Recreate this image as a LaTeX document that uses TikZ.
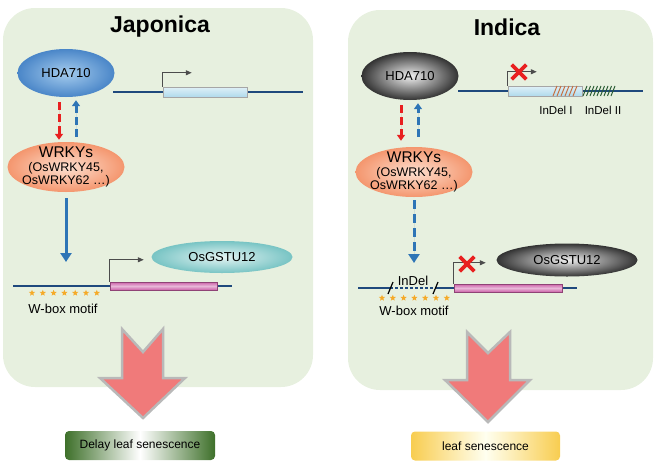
\documentclass[tikz,border=0pt]{standalone}
\usepackage{fontspec}
\setmainfont{Liberation Sans}
\usetikzlibrary{shapes.geometric,shapes.misc,arrows.meta,positioning}
\definecolor{panelgreen}{RGB}{231,240,223}
\definecolor{dnablue}{RGB}{31,73,125}
\definecolor{arrowblue}{RGB}{46,117,182}
\definecolor{arrowred}{RGB}{232,32,32}
\definecolor{hdablue}{RGB}{74,134,200}
\definecolor{hdalight}{RGB}{165,204,238}
\definecolor{wrkydark}{RGB}{244,150,110}
\definecolor{wrkylight}{RGB}{253,224,208}
\definecolor{gstdark}{RGB}{120,196,196}
\definecolor{gstlight}{RGB}{228,244,243}
\definecolor{genecyan}{RGB}{176,218,236}
\definecolor{genepink}{RGB}{204,96,168}
\definecolor{starorange}{RGB}{245,170,40}
\definecolor{coral}{RGB}{240,122,122}
\definecolor{leafgreen}{RGB}{62,112,42}
\definecolor{leafyellow}{RGB}{248,205,80}
\definecolor{indelbrown}{RGB}{200,110,60}
\definecolor{indelgreen}{RGB}{40,90,50}
\begin{document}
\begin{tikzpicture}[x=1pt,y=-1pt]
  \tikzstyle{every node}=[font=\fontsize{13}{15}\selectfont, inner sep=0pt]
  \tikzstyle{panel}=[fill=panelgreen, rounded corners=32pt]
  \tikzstyle{title}=[font=\fontsize{23}{26}\selectfont\bfseries]
  \tikzstyle{blob}=[ellipse, minimum width=97pt, minimum height=48pt]
  \tikzstyle{hdaJ}=[blob, shading=radial, inner color=hdalight, outer color=hdablue]
  \tikzstyle{hdaI}=[blob, shading=radial, inner color=gray!12, outer color=black!80]
  \tikzstyle{wrky}=[ellipse, minimum width=117pt, minimum height=50pt, shading=radial, inner color=wrkylight, outer color=wrkydark]
  \tikzstyle{wrkytext}=[align=center, font=\fontsize{12.5}{13.5}\selectfont]
  \tikzstyle{gstJ}=[ellipse, minimum width=141pt, minimum height=32pt, shading=radial, inner color=gstlight, outer color=gstdark]
  \tikzstyle{gstI}=[ellipse, minimum width=141pt, minimum height=33pt, shading=radial, inner color=gray!12, outer color=black!80]
  \tikzstyle{dna}=[draw=dnablue, line width=1.6pt]
  \tikzstyle{cyanbox}=[draw=gray!70, line width=0.5pt, minimum height=10pt, top color=genecyan!40!white, bottom color=genecyan]
  \tikzstyle{pinkbox}=[draw=genepink!70!black, line width=0.5pt, minimum height=8pt, top color=genepink, bottom color=genepink, middle color=genepink!45!white]
  \tikzstyle{prom}=[-{Triangle[length=6pt,width=5pt]}, draw=black!70, line width=1.2pt]
  \tikzstyle{redDash}=[-{Triangle[length=6pt,width=8pt]}, draw=arrowred, fill=arrowred, line width=3pt, dash pattern=on 8pt off 4pt]
  \tikzstyle{blueDash}=[-{Triangle[length=6pt,width=8pt]}, draw=arrowblue, fill=arrowblue, line width=3pt, dash pattern=on 8pt off 4pt]
  \tikzstyle{blueArrow}=[-{Triangle[length=9pt,width=11pt]}, draw=arrowblue, fill=arrowblue, line width=3pt]
  \tikzstyle{noX}=[cross out, draw=arrowred, line width=3.6pt, minimum size=11pt]
  \tikzstyle{wstar}=[star, star points=5, star point ratio=2.3, fill=starorange, minimum size=6.5pt]
  \tikzstyle{bigArrow}=[fill=coral, draw=gray!55, line width=2.5pt, line join=miter]
  \tikzstyle{result}=[rounded corners=4pt, minimum width=150pt, minimum height=29pt, font=\fontsize{12}{14}\selectfont]
  \useasboundingbox (0,0) rectangle (661,466);

  \fill[panel] (3,8) rectangle (313,387);
  \fill[panel] (348,10) rectangle (653,390);

  \node[title] (japTitle) at (160,27) {Japonica};
  \coordinate (lineLa) at (113,92);
  \coordinate (lineLb) at (303,92);
  \draw[dna] (lineLa) -- (lineLb);
  \node[cyanbox, minimum width=84pt] (geneL) at (205,92) {};
  \draw[prom] (geneL.north west) -- ++(0,-14) -- ++(29,0);
  \node[hdaJ] (hdaL) at (66,73) {HDA710};
  \node[wrky, label={[wrkytext]center:{{\fontsize{15.5}{13.5}\selectfont WRKYs}\\(OsWRKY45,\\OsWRKY62 \dots)}}] (wrkyL) at (66,167) {};
  \draw[redDash, shorten <=5pt, shorten >=2pt] ([xshift=-7pt]hdaL.south) -- ([xshift=-7pt]hdaL.south |- wrkyL.north);
  \draw[blueDash, shorten <=5pt, shorten >=3pt] ([xshift=10pt]hdaL.south |- wrkyL.north) -- ([xshift=10pt]hdaL.south);
  \coordinate (wboxL) at (66,286);
  \draw[blueArrow, shorten <=6pt, shorten >=24pt] (wrkyL.south) -- (wboxL);
  \draw[dna] (13,286) -- (232,286);
  \node[pinkbox, minimum width=107pt] (pinkL) at (163.5,286) {};
  \draw[prom] (pinkL.north west) -- ++(0,-22) -- ++(34,0);
  \node[gstJ] (gstL) at (222,257) {OsGSTU12};
  \foreach \i in {0,...,6}
    \node[wstar] (starL\i) at (32+10.8*\i,293) {};
  \node (wboxTextL) at (63,309) {W-box motif};
  \draw[bigArrow] (122,329) -- (143,352) -- (163,329) -- (163,378) -- (185,378) -- (143,418) -- (100,378) -- (122,378) -- cycle;
  \node[result, left color=leafgreen, right color=leafgreen, middle color=white] (delay) at (140,445.5) {Delay leaf senescence};

  \node[title] (indTitle) at (507,27) {Indica};
  \coordinate (lineRa) at (458,91);
  \coordinate (lineRb) at (643,91);
  \draw[dna] (lineRa) -- (lineRb);
  \node[cyanbox, minimum width=74pt] (geneR) at (545,91) {};
  \foreach \x in {553,557,...,573}
    \draw[indelbrown, line width=1pt] (\x,96) -- (\x+4,86);
  \foreach \x in {583,586.5,...,614}
    \draw[indelgreen, line width=1pt] (\x,96) -- (\x+4,86);
  \node[font=\fontsize{11.5}{13}\selectfont] (indelOne) at (556,110) {InDel I};
  \node[font=\fontsize{11.5}{13}\selectfont] (indelTwo) at (603,110) {InDel II};
  \draw[prom] (geneR.north west) -- ++(0,-14) -- ++(29,0);
  \node[noX] (blockTop) at (519,72) {};
  \node[hdaI] (hdaR) at (410,76) {HDA710};
  \node[wrky, label={[wrkytext]center:{{\fontsize{15.5}{13.5}\selectfont WRKYs}\\(OsWRKY45,\\OsWRKY62 \dots)}}] (wrkyR) at (414,172) {};
  \draw[redDash, shorten <=5pt, shorten >=6pt] ([xshift=-9pt]hdaR.south) -- ([xshift=-9pt]hdaR.south |- wrkyR.north);
  \draw[blueDash, shorten <=10pt, shorten >=3pt] ([xshift=8pt]hdaR.south |- wrkyR.north) -- ([xshift=8pt]hdaR.south);
  \coordinate (wboxR) at (414,288);
  \draw[blueArrow, dash pattern=on 9pt off 5pt, shorten <=3pt, shorten >=25pt] (wrkyR.south) -- (wboxR);
  \draw[dna] (358,288) -- (390,288) (435,288) -- (577,288);
  \draw[dna, dash pattern=on 3pt off 2pt] (390,288) -- (435,288);
  \draw[line width=1.2pt] (388,294) -- (393,282) (433,294) -- (438,282);
  \node (indelW) at (413,281) {InDel};
  \node[pinkbox, minimum width=108pt] (pinkR) at (508,288) {};
  \draw[prom] (pinkR.north west) -- ++(0,-21) -- ++(32,0);
  \node[noX] (blockBottom) at (467,264) {};
  \node[gstI] (gstR) at (567,260) {OsGSTU12};
  \foreach \i in {0,...,6}
    \node[wstar] (starR\i) at (382+10.8*\i,298) {};
  \node (wboxTextR) at (414,311) {W-box motif};
  \draw[bigArrow] (467,332) -- (488,353) -- (510,332) -- (510,380) -- (530,380) -- (488,422) -- (445,380) -- (467,380) -- cycle;
  \node[result, minimum width=149pt, left color=leafyellow, right color=leafyellow, middle color=yellow!6!white] (leafR) at (485.5,446) {leaf senescence};
\end{tikzpicture}
\end{document}
